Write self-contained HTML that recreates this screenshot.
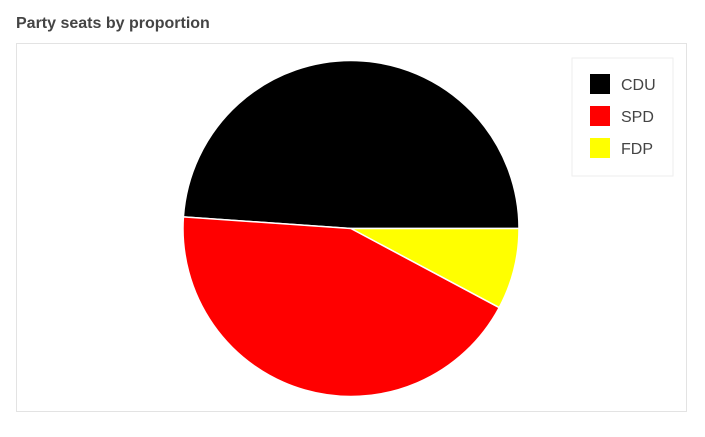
<!DOCTYPE html>
<html><head><meta charset="utf-8">
<style>
html,body{margin:0;padding:0;background:#fff;width:705px;height:437px;overflow:hidden;font-family:"Liberation Sans",sans-serif;}
#title{position:absolute;left:16px;top:15px;font-size:16px;font-weight:bold;color:#444;}
#frame{position:absolute;left:16px;top:43px;width:671px;height:369px;border:1px solid #e3e3e3;box-sizing:border-box;}
svg{position:absolute;left:0;top:0;}
</style></head><body>
<div id="title">Party seats by proportion</div>
<div id="frame"></div>
<svg id="chart" width="705" height="437"></svg>
<script>
const parties = ["CDU","SPD","FDP"];
const seats = [48.9, 43.3, 7.8];
const colors = ["#000000","#ff0000","#ffff00"];

const svg = document.getElementById('chart');
const NS = "http://www.w3.org/2000/svg";
const cx = 351, cy = 228.5, r = 168;
const total = seats.reduce((a,b)=>a+b,0);
function pt(a){ return [cx + r*Math.cos(a), cy - r*Math.sin(a)]; }
let start = 0;
seats.forEach((v,i)=>{
  const sweep = v/total*2*Math.PI;
  const [x1,y1] = pt(start), [x2,y2] = pt(start+sweep);
  const large = sweep > Math.PI ? 1 : 0;
  const p = document.createElementNS(NS,'path');
  p.setAttribute('d',`M${cx},${cy} L${x1},${y1} A${r},${r} 0 ${large} 0 ${x2},${y2} Z`);
  p.setAttribute('fill',colors[i]);
  p.setAttribute('stroke','#fff');
  p.setAttribute('stroke-width','1.5');
  
  
  svg.appendChild(p);
  start += sweep;
});
const lg = document.createElementNS(NS,'rect');
lg.setAttribute('x',572); lg.setAttribute('y',58); lg.setAttribute('width',101); lg.setAttribute('height',118);
lg.setAttribute('fill','#fff'); lg.setAttribute('stroke','#eee');


svg.appendChild(lg);
parties.forEach((name,i)=>{
  const y = 74 + i*32;
  const s = document.createElementNS(NS,'rect');
  s.setAttribute('x',590); s.setAttribute('y',y); s.setAttribute('width',20); s.setAttribute('height',20);
  s.setAttribute('fill',colors[i]);
  
  
  svg.appendChild(s);
  const t = document.createElementNS(NS,'text');
  t.setAttribute('x',621); t.setAttribute('y',y+16);
  t.setAttribute('font-size','16'); t.setAttribute('fill','#444');
  t.setAttribute('font-family','"Liberation Sans", sans-serif');
  t.textContent = name;
  
  
  svg.appendChild(t);
});
</script>
</body></html>
